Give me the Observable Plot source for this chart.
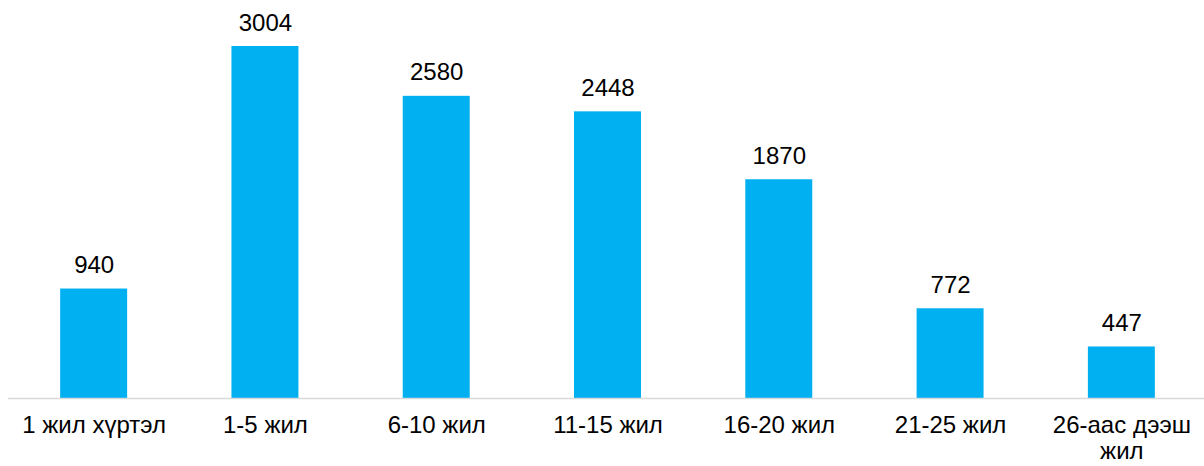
<!DOCTYPE html>
<html>
<head>
<meta charset="utf-8">
<script src="https://cdn.jsdelivr.net/npm/d3@7"></script>
<script src="https://cdn.jsdelivr.net/npm/@observablehq/plot@0.6"></script>
<style>
  html, body { margin: 0; padding: 0; background: #fff; }
  #chart svg { display: block; }
</style>
</head>
<body>
<div id="chart"></div>
<script>
const categories = ["1 жил хүртэл", "1-5 жил", "6-10 жил", "11-15 жил", "16-20 жил", "21-25 жил", "26-аас дээш\nжил"];
const values = [940, 3004, 2580, 2448, 1870, 772, 447];

const data = categories.map((c, i) => ({category: c, value: values[i]}));

const chart = Plot.plot({
  width: 1204,
  height: 466,
  marginLeft: 8,
  marginRight: -3,
  marginTop: 46,
  marginBottom: 67,
  style: {fontFamily: "'Liberation Sans', Arial, sans-serif", color: "#000", background: "#fff", overflow: "hidden"},
  x: {domain: categories, paddingInner: 0.609, paddingOuter: 0.3045, round: false, label: null},
  y: {domain: [0, 3004], axis: null},
  marks: [
    Plot.barY(data, {x: "category", y: "value", fill: "#00B0F0"}),
    Plot.ruleY([0], {stroke: "#d9d9d9", strokeWidth: 1.5, dy: -1}),
    Plot.text(data, {x: "category", y: "value", text: d => String(d.value), lineAnchor: "bottom", dy: -16, fontSize: 24, fill: "#000"}),
    Plot.axisX({tickSize: 0, tickPadding: 15, fontSize: 24, lineHeight: 1.08, lineAnchor: "top", fill: "#000", label: null})
  ]
});
document.getElementById("chart").appendChild(chart);
</script>
</body>
</html>
